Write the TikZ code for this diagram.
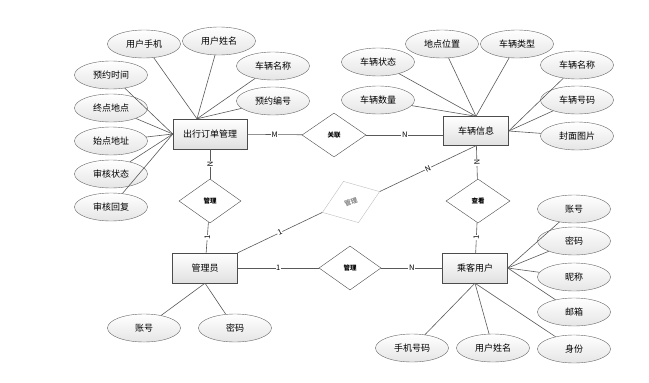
\documentclass[tikz,border=0pt]{standalone}
\usepackage{fontspec}
\setmainfont{Noto Sans CJK SC}
\usetikzlibrary{shapes.geometric}
\tikzset{
  shiti/.style={draw=black!70, rectangle, minimum width=65pt, minimum height=29pt, inner sep=1pt,
    top color=white, bottom color=black!12, font=\fontsize{9}{10}\selectfont},
  shuxing/.style={draw=black!60, ellipse, minimum width=73pt, minimum height=28pt, inner sep=0pt,
    top color=white, bottom color=black!10, font=\fontsize{9}{10}\selectfont},
  guanxi/.style={draw=black!70, diamond, minimum width=64pt, minimum height=44pt, inner sep=0pt,
    fill=white, font=\bfseries\fontsize{6.5}{7}\selectfont},
  lianxian/.style={draw=black!65, line width=0.6pt},
  biaoqian/.style={fill=white, inner sep=0.6pt, font=\fontsize{7.5}{8}\selectfont},
}
\begin{document}
\begin{tikzpicture}[x=1pt, y=-1pt]
    \useasboundingbox (0,0) rectangle (649,383);

    % 实体
    \node[shiti, minimum width=74pt, minimum height=30pt] (dingdan) at (210,134) {出行订单管理};
    \node[shiti] (cheliang) at (476,131) {车辆信息};
    \node[shiti, minimum height=30pt] (chengke) at (475,268) {乘客用户};
    \node[shiti, minimum height=30pt] (guanliyuan) at (205,268) {管理员};

    % 关系
    \node[guanxi] (guanlian) at (334,135) {关联};
    \node[guanxi] (chakan) at (478,201) {查看};
    \node[guanxi, minimum width=62pt] (guanlizuo) at (210,201) {管理};
    \node[guanxi, minimum width=62pt] (guanlixia) at (350,268) {管理};
    \node[guanxi, minimum width=61pt, draw=black!25, text=black!45, rotate=20] (guanlixie) at (351,202) {管理};

    % 出行订单管理的属性
    \node[shuxing] (yyshijian) at (111,75) {预约时间};
    \node[shuxing] (zddidian) at (111,108) {终点地点};
    \node[shuxing] (sddizhi) at (111,141) {始点地址};
    \node[shuxing] (shzhuangtai) at (111,174) {审核状态};
    \node[shuxing] (shhuifu) at (111,207) {审核回复};
    \node[shuxing] (yhshouji) at (144,44) {用户手机};
    \node[shuxing] (yhxingming) at (219,41) {用户姓名};
    \node[shuxing] (clmingcheng) at (273,66) {车辆名称};
    \node[shuxing] (yybianhao) at (273,101) {预约编号};
    \coordinate (ddding) at ([xshift=-13pt]dingdan.north);
    \foreach \s in {yhshouji, yhxingming, clmingcheng, yybianhao}
      \draw[lianxian] (\s) -- (ddding);
    \foreach \s in {yyshijian, zddidian, sddizhi, shzhuangtai, shhuifu}
      \draw[lianxian] (\s) -- (dingdan.west);

    % 车辆信息的属性
    \node[shuxing] (clzhuangtai) at (378,62) {车辆状态};
    \node[shuxing] (ddweizhi) at (442,44) {地点位置};
    \node[shuxing] (clleixing) at (517,44) {车辆类型};
    \node[shuxing] (clshuliang) at (378,100) {车辆数量};
    \node[shuxing] (clmingcheng2) at (577,65) {车辆名称};
    \node[shuxing] (clhaoma) at (577,100) {车辆号码};
    \node[shuxing] (fmtupian) at (577,136) {封面图片};
    \foreach \s in {clzhuangtai, ddweizhi, clleixing, clshuliang}
      \draw[lianxian] (\s) -- (cheliang.north);
    \foreach \s in {clmingcheng2, clhaoma, fmtupian}
      \draw[lianxian] (\s) -- (cheliang.east);

    % 乘客用户的属性
    \node[shuxing] (zhanghao) at (574,209) {账号};
    \node[shuxing] (mima) at (574,241) {密码};
    \node[shuxing] (nicheng) at (574,277) {昵称};
    \node[shuxing] (youxiang) at (574,312) {邮箱};
    \node[shuxing] (shenfen) at (574,349) {身份};
    \node[shuxing] (sjhaoma) at (412,348) {手机号码};
    \node[shuxing] (yhxingming2) at (493,348) {用户姓名};
    \foreach \s in {zhanghao, mima, nicheng, youxiang}
      \draw[lianxian] (\s) -- (chengke.east);
    \foreach \s in {shenfen, sjhaoma, yhxingming2}
      \draw[lianxian] (\s) -- (chengke.south);

    % 管理员的属性
    \node[shuxing] (zhanghao2) at (144,328) {账号};
    \node[shuxing] (mima2) at (235,328) {密码};
    \foreach \s in {zhanghao2, mima2}
      \draw[lianxian] (\s) -- (guanliyuan.south);

    % 实体与关系的连线
    \draw[lianxian] (dingdan) -- node[biaoqian] {M} (guanlian);
    \draw[lianxian] (guanlian) -- node[biaoqian] {N} (guanlian -| cheliang.west);
    \draw[lianxian] (dingdan) -- node[biaoqian, sloped] {N} (guanlizuo);
    \draw[lianxian] (guanlizuo) -- node[biaoqian, sloped] {1} (guanliyuan);
    \draw[lianxian] (cheliang) -- node[biaoqian, sloped] {N} (chakan);
    \draw[lianxian] (chakan) -- node[biaoqian, sloped] {1} (chengke);
    \draw[lianxian] (guanliyuan) -- node[biaoqian] {1} (guanlixia);
    \draw[lianxian] (guanlixia) -- node[biaoqian] {N} (chengke);
    \draw[lianxian] (guanliyuan.north east) -- node[biaoqian, sloped] {1} (guanlixie.west);
    \draw[lianxian] (guanlixie.east) -- node[biaoqian, sloped] {N} (cheliang.south);
\end{tikzpicture}
\end{document}
